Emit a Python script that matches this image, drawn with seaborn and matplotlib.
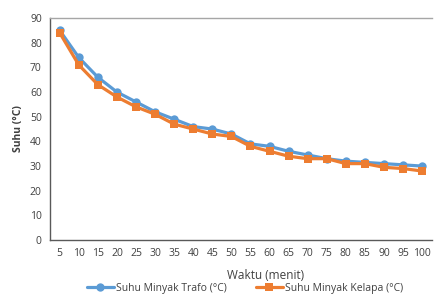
import matplotlib
matplotlib.use("Agg")
import matplotlib.pyplot as plt
import seaborn as sns
import pandas as pd

waktu = [5, 10, 15, 20, 25, 30, 35, 40, 45, 50, 55, 60, 65, 70, 75, 80, 85, 90, 95, 100]
suhu_trafo = [85, 74, 66, 60, 56, 52, 49, 46, 45, 43, 39, 38, 36, 34.5, 33, 32, 31.5, 31, 30.5, 30]
suhu_kelapa = [84, 71, 63, 58, 54, 51, 47, 45, 43, 42, 38, 36, 34, 33, 33, 31, 31, 29.5, 29, 28]

label_trafo = "Suhu Minyak Trafo (°C)"
label_kelapa = "Suhu Minyak Kelapa (°C)"

df = pd.DataFrame({"waktu": waktu, label_trafo: suhu_trafo, label_kelapa: suhu_kelapa})
df = df.melt(id_vars="waktu", var_name="seri", value_name="suhu")

sns.set_style("white")
plt.rcParams["font.family"] = ["Open Sans", "DejaVu Sans"]

fig = plt.figure(figsize=(4.36, 2.95), dpi=100)
ax = fig.add_axes([0.115, 0.186, 0.875, 0.753])

sns.lineplot(data=df, x="waktu", y="suhu", hue="seri", style="seri",
             palette=["#5B9BD5", "#ED7D31"], markers=["o", "s"], dashes=False,
             linewidth=2.3, markersize=6, markeredgewidth=0, ax=ax)

ax.set_xlim(2.5, 102.5)
ax.set_ylim(0, 90)
ax.set_xticks(waktu)
ax.set_yticks(range(0, 91, 10))
ax.tick_params(axis="both", labelsize=7.5, colors="#404040", length=0, pad=6)
ax.set_xlabel("Waktu (menit)", fontsize=8.5, color="#404040")
ax.xaxis.set_label_coords(0.564, -0.128)
ax.set_ylabel("Suhu (°C)", fontsize=7.5, fontweight="bold", color="#404040", labelpad=4)

for side in ["left", "bottom"]:
    ax.spines[side].set_color("#595959")
    ax.spines[side].set_linewidth(1.0)
ax.spines["top"].set_color("#A6A6A6")
ax.spines["top"].set_linewidth(1.0)
ax.spines["right"].set_visible(False)

handles, labels = ax.get_legend_handles_labels()
ax.legend(handles, labels, loc="center", bbox_to_anchor=(0.51, -0.218),
          ncol=2, frameon=False, fontsize=7.5, handlelength=2.6, columnspacing=2.8,
          handletextpad=0.2, labelcolor="#404040", borderaxespad=0, borderpad=0)

fig.savefig("out.png", dpi=100)
